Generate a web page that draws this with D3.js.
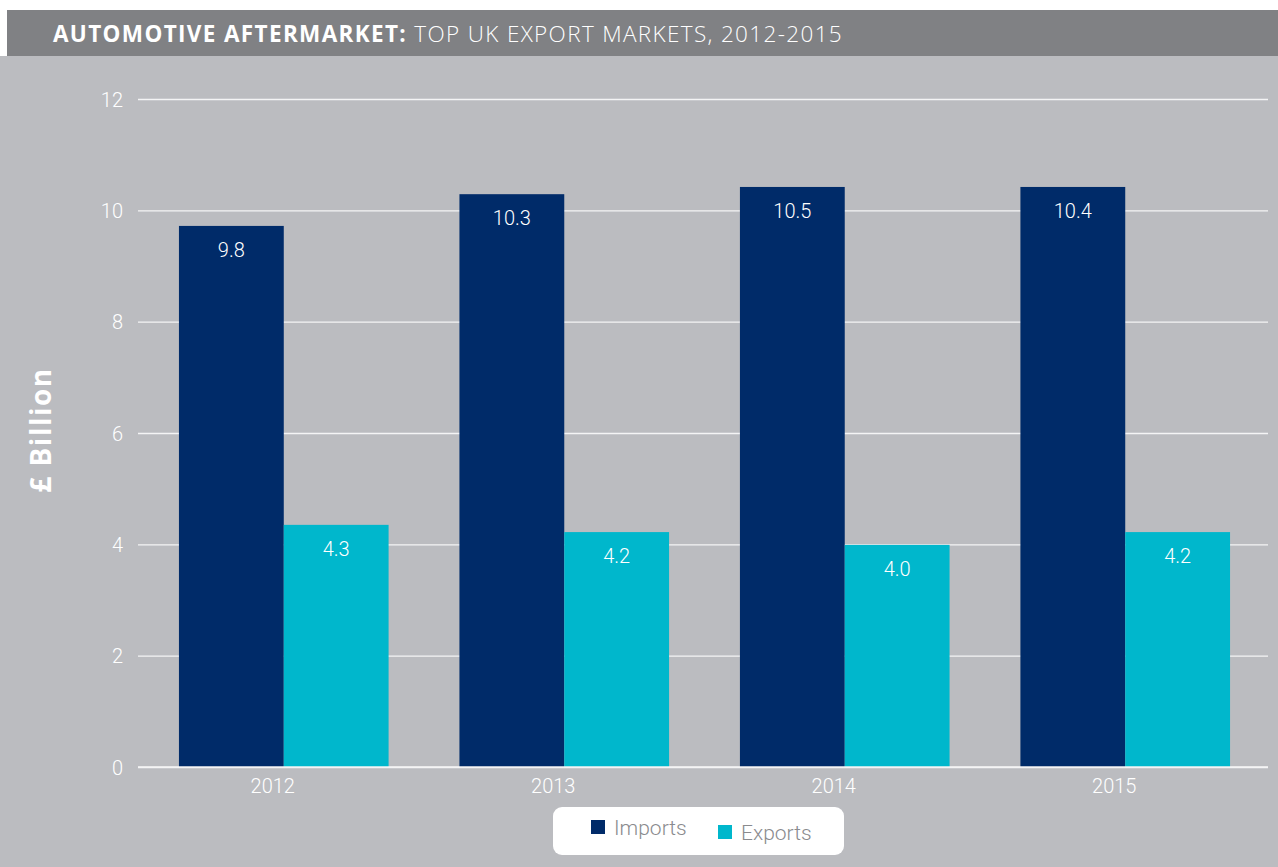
<!DOCTYPE html>
<html>
<head>
<meta charset="utf-8">
<script src="https://cdn.jsdelivr.net/npm/d3@7"></script>
<style>
  body { margin: 0; background: #fff; }
  svg text { font-family: "Roboto", "Open Sans", sans-serif; }
</style>
</head>
<body>
<svg id="chart" width="1278" height="867"></svg>
<script>
// data
var years = ["2012", "2013", "2014", "2015"];
var series = ["Imports", "Exports"];
var imports = [9.72, 10.29, 10.42, 10.42];
var exports = [4.35, 4.22, 3.99, 4.22];
var importLabels = ["9.8", "10.3", "10.5", "10.4"];
var exportLabels = ["4.3", "4.2", "4.0", "4.2"];
var yTicks = [0, 2, 4, 6, 8, 10, 12];

var colors = { Imports: "#002b69", Exports: "#00b7cc" };

var svg = d3.select("#chart");

// background
svg.append("rect")
  .attr("x", 0).attr("y", 56).attr("width", 1278).attr("height", 811)
  .attr("fill", "#bbbcc0");

// title bar
svg.append("rect")
  .attr("x", 7).attr("y", 10).attr("width", 1271).attr("height", 46)
  .attr("fill", "#808184");

var title = svg.append("text")
  .attr("x", 53).attr("y", 42)
  .attr("fill", "#fff")
  .style("font-family", "'Open Sans', sans-serif")
  .style("font-size", "22.5px")
  .style("letter-spacing", "1.35px");
title.append("tspan").attr("font-weight", "bold").text("AUTOMOTIVE AFTERMARKET: ");
title.append("tspan").attr("font-weight", 300).text("TOP UK EXPORT MARKETS, 2012-2015");

var plotLeft = 138, plotRight = 1268, plotTop = 99, plotBottom = 767;

var x = d3.scaleBand().domain(years).range([plotLeft, plotRight + 3]).paddingInner(0.2526).paddingOuter(0.146);
var xs = d3.scaleBand().domain(series).range([0, x.bandwidth()]);
var y = d3.scaleLinear().domain([0, 12]).range([plotBottom, plotTop]);

// gridlines
var yAxis = d3.axisLeft(y).tickValues(yTicks).tickSize(-(plotRight - plotLeft)).tickPadding(15);
var gy = svg.append("g").attr("transform", "translate(" + plotLeft + ",0)").call(yAxis);
gy.select(".domain").remove();
gy.selectAll(".tick line").attr("stroke", "#f4f4f5").attr("stroke-width", 1.3);
gy.selectAll(".tick text")
  .attr("fill", "#fff").attr("font-weight", 300)
  .style("font-size", "20px").attr("dy", "0.35em");

var rows = years.map(function(yr, i) {
  return [
    { year: yr, key: "Imports", value: imports[i], label: importLabels[i] },
    { year: yr, key: "Exports", value: exports[i], label: exportLabels[i] }
  ];
});

var groups = svg.append("g").selectAll("g")
  .data(rows).join("g")
  .attr("transform", function(d) { return "translate(" + x(d[0].year) + ",0)"; });

groups.selectAll("rect")
  .data(function(d) { return d; }).join("rect")
  .attr("x", function(d) { return xs(d.key); })
  .attr("width", xs.bandwidth())
  .attr("y", function(d) { return y(d.value); })
  .attr("height", function(d) { return plotBottom - y(d.value); })
  .attr("fill", function(d) { return colors[d.key]; });

groups.selectAll("text")
  .data(function(d) { return d; }).join("text")
  .attr("x", function(d) { return xs(d.key) + xs.bandwidth() / 2; })
  .attr("y", function(d) { return y(d.value) + 31; })
  .attr("text-anchor", "middle")
  .attr("fill", "#fff").attr("font-weight", 300)
  .style("font-size", "20px")
  .text(function(d) { return d.label; });

// x axis
var xAxis = d3.axisBottom(x).tickSize(0).tickPadding(12);
var gx = svg.append("g").attr("transform", "translate(0," + plotBottom + ")").call(xAxis);
gx.select(".domain").attr("stroke", "#f4f4f5").attr("stroke-width", 1.3)
  .attr("d", "M" + plotLeft + ",0H" + plotRight);
gx.selectAll(".tick text")
  .attr("x", -11)
  .attr("fill", "#fff").attr("font-weight", 300)
  .style("font-size", "20px");

// y label
svg.append("text")
  .attr("transform", "translate(51,430) rotate(-90)")
  .attr("text-anchor", "middle")
  .attr("fill", "#fff").attr("font-weight", "bold")
  .style("font-family", "'Open Sans', sans-serif")
  .style("font-size", "28px")
  .style("letter-spacing", "1.5px")
  .text("£ Billion");

// legend
var legend = svg.append("g");
legend.append("rect")
  .attr("x", 553).attr("y", 807).attr("width", 291).attr("height", 48)
  .attr("rx", 9).attr("fill", "#fff");
var legendPos = [{ x: 591, y: 820 }, { x: 718, y: 825 }];
series.forEach(function(s, i) {
  legend.append("rect")
    .attr("x", legendPos[i].x).attr("y", legendPos[i].y)
    .attr("width", 14).attr("height", 14)
    .attr("fill", colors[s]);
  legend.append("text")
    .attr("x", legendPos[i].x + 23).attr("y", legendPos[i].y + 15)
    .attr("fill", "#8a8b8e").attr("font-weight", 300)
    .style("font-size", "21px")
    .text(s);
});
</script>
</body>
</html>
